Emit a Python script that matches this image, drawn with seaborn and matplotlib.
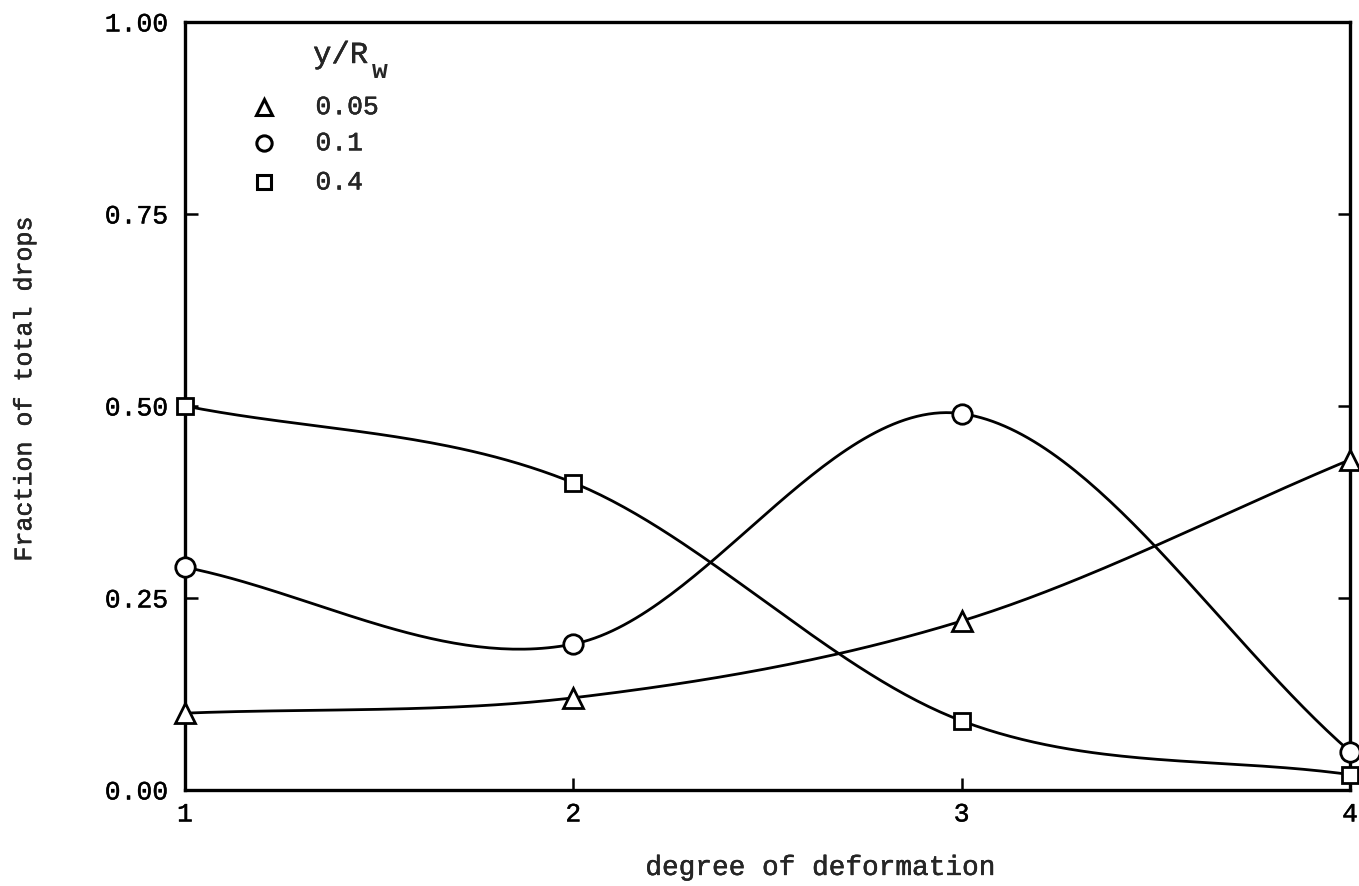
import numpy as np
import pandas as pd
import matplotlib
matplotlib.use("Agg")
import matplotlib.pyplot as plt
import matplotlib.patheffects as pe
import seaborn as sns

# degree of deformation
degree = [1, 2, 3, 4]
# fraction of total drops at each wall distance y/R_w
frac_005 = [0.10, 0.12, 0.22, 0.43]
frac_01 = [0.29, 0.19, 0.49, 0.05]
frac_04 = [0.50, 0.40, 0.09, 0.02]
series_labels = ["0.05", "0.1", "0.4"]
y_ticks = [0.00, 0.25, 0.50, 0.75, 1.00]
y_ticklabels = ["0.00", "0.25", "0.50", "0.75", "1.00"]
x_ticks = [1, 2, 3, 4]

MONO = ["Liberation Mono", "DejaVu Sans Mono"]
INK = [pe.withStroke(linewidth=0.3, foreground="black")]

sns.set_theme(style="white")
plt.rcParams["font.family"] = MONO

df = pd.DataFrame({
    "degree": degree * 3,
    "fraction": frac_005 + frac_01 + frac_04,
    "series": sum([[s] * len(degree) for s in series_labels], []),
})


def smooth_curve(x, y, n=200):
    """Catmull-Rom (cubic Hermite) curve passing through every point."""
    x = np.asarray(x, float)
    y = np.asarray(y, float)
    k = len(x)
    m = np.empty(k)
    m[0] = (y[1] - y[0]) / (x[1] - x[0])
    m[-1] = (y[-1] - y[-2]) / (x[-1] - x[-2])
    m[1:-1] = (y[2:] - y[:-2]) / (x[2:] - x[:-2])
    xs = np.linspace(x[0], x[-1], n)
    idx = np.clip(np.searchsorted(x, xs) - 1, 0, k - 2)
    h = x[idx + 1] - x[idx]
    s = (xs - x[idx]) / h
    h00 = 2 * s**3 - 3 * s**2 + 1
    h10 = s**3 - 2 * s**2 + s
    h01 = -2 * s**3 + 3 * s**2
    h11 = s**3 - s**2
    ys = h00 * y[idx] + h10 * h * m[idx] + h01 * y[idx + 1] + h11 * h * m[idx + 1]
    return xs, ys


fig = plt.figure(figsize=(13.59, 8.86), dpi=100)
ax = fig.add_axes([0.1361, 0.1084, 0.8573, 0.8668])

markers = {"0.05": "^", "0.1": "o", "0.4": "s"}
sizes = {"0.05": 15, "0.1": 14, "0.4": 12}

for lab, vals in zip(series_labels, [frac_005, frac_01, frac_04]):
    xs, ys = smooth_curve(degree, vals)
    sub = pd.DataFrame({"degree": xs, "fraction": ys})
    sns.lineplot(data=sub, x="degree", y="fraction", ax=ax, color="black",
                 lw=2.0, estimator=None, sort=False, legend=False)

for lab in series_labels:
    sub = df[df["series"] == lab]
    ax.plot(sub["degree"], sub["fraction"], linestyle="none",
            marker=markers[lab], ms=sizes[lab], mfc="white", mec="black",
            mew=2.0, zorder=5, clip_on=False)

ax.set_xlim(1, 4)
ax.set_ylim(0, 1)
ax.set_xticks(x_ticks)
ax.set_xticklabels([str(v) for v in x_ticks], fontsize=19, family=MONO)
ax.set_yticks(y_ticks)
ax.set_yticklabels(y_ticklabels, fontsize=19, family=MONO)
ax.tick_params(axis="both", direction="in", length=9, width=1.8,
               colors="black")
ax.tick_params(axis="y", right=True, left=True, pad=12)
ax.tick_params(axis="x", bottom=True, pad=9)
for t in ax.get_xticklabels() + ax.get_yticklabels():
    t.set_path_effects(INK)

for side in ["left", "right", "top", "bottom"]:
    ax.spines[side].set_visible(True)
    ax.spines[side].set_color("black")
    ax.spines[side].set_linewidth(2.4)

ax.set_xlabel("degree of deformation", fontsize=20, family=MONO)
ax.xaxis.set_label_coords(0.545, -0.0846)
ax.set_ylabel("Fraction of total drops", fontsize=18, family=MONO)
ax.yaxis.set_label_coords(-0.138, 0.522)
ax.yaxis.label.set_verticalalignment("center")
ax.xaxis.label.set_path_effects(INK)
ax.yaxis.label.set_path_effects(INK)

# key: marker symbols with their y/R_w values
ax.text(0.110, 0.9466, "y/R", transform=ax.transAxes, fontsize=22,
        family=MONO, ha="left", va="baseline", path_effects=INK)
ax.text(0.1605, 0.927, "w", transform=ax.transAxes, fontsize=19,
        family=MONO, fontweight="bold", ha="left", va="baseline")
key_rows = [0.889, 0.842, 0.791]
key_ms = {"0.05": 12, "0.1": 11, "0.4": 10}
for lab, yk in zip(series_labels, key_rows):
    ax.plot([0.068], [yk], transform=ax.transAxes, linestyle="none",
            marker=markers[lab], ms=key_ms[lab], mfc="white", mec="black",
            mew=2.2)
    ax.text(0.112, yk, lab, transform=ax.transAxes, fontsize=19,
            family=MONO, ha="left", va="center", path_effects=INK)

fig.savefig("out.png", dpi=100, facecolor="white")
